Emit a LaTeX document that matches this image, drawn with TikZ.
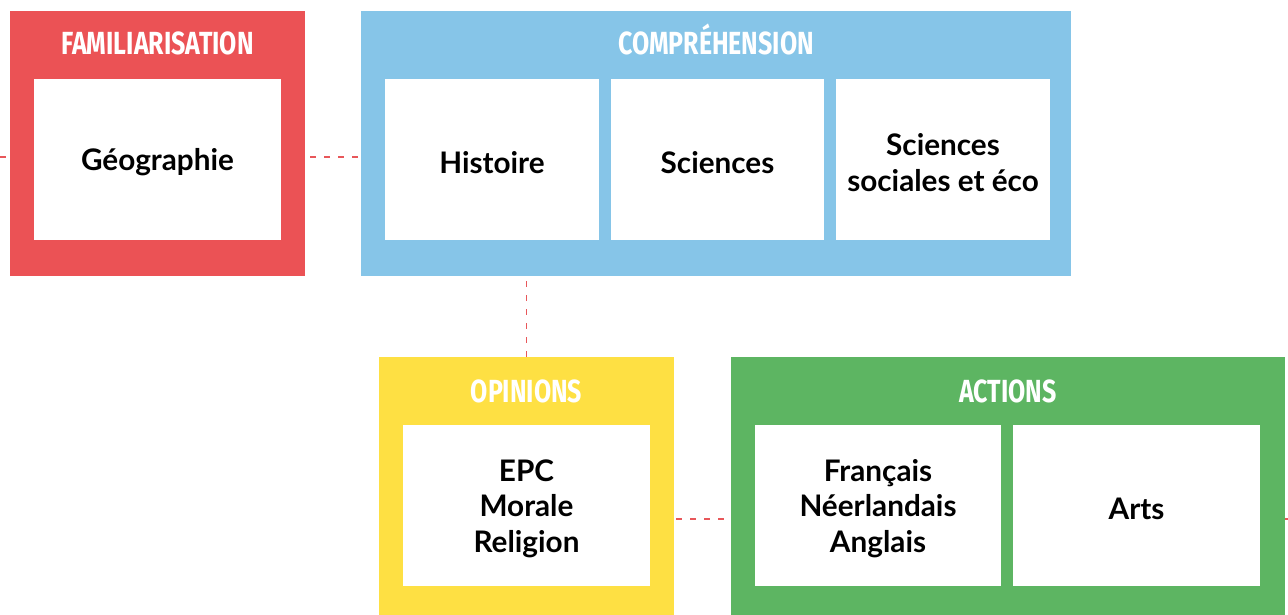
\documentclass[tikz,border=0pt]{standalone}
\usepackage{fontspec}
\setmainfont{Lato}
\newfontfamily\titlefont[FakeStretch=0.78]{Fira Sans}
\definecolor{cred}{HTML}{EB5255}
\definecolor{cblue}{HTML}{86C5E8}
\definecolor{cyellow}{HTML}{FEE043}
\definecolor{cgreen}{HTML}{5DB562}
\definecolor{cdash}{HTML}{E8575A}
\begin{document}
\begin{tikzpicture}[x=1pt,y=-1pt,
  panel/.style={rectangle,fill=#1,draw=none,inner sep=0pt,outer sep=0pt},
  card/.style={rectangle,fill=white,draw=none,inner sep=0pt,outer sep=0pt,
     minimum height=161pt},
  cardtext/.style={align=center,text=black,inner sep=0pt,yshift=-3pt,
     font=\fontsize{29.7}{35.5}\selectfont\bfseries},
  ttl/.style={anchor=base,text=white,inner sep=0pt,font=\titlefont\bfseries\fontsize{32}{32}\selectfont},
  link/.style={draw=cdash,line width=1.5pt,dash pattern=on 6pt off 8pt}]
\useasboundingbox (0,0) rectangle (1288,615);
% panels
\node[panel=cred,minimum width=295pt,minimum height=265pt] (fam) at (157.5,143.5) {};
\node[panel=cblue,minimum width=710pt,minimum height=265pt] (comp) at (716,143.5) {};
\node[panel=cyellow,minimum width=295pt,minimum height=258pt] (opin) at (526.5,486) {};
\node[panel=cgreen,minimum width=554pt,minimum height=258pt] (act) at (1008,486) {};
% titles
\node[ttl] (tfam) at (157.5,55) {FAMILIARISATION};
\node[ttl] (tcomp) at (716,55) {COMPRÉHENSION};
\node[ttl] (topin) at (526.5,402) {OPINIONS};
\node[ttl] (tact) at (1008,402) {ACTIONS};
% cards
\node[card,minimum width=247pt,label={[cardtext]center:Géographie}] (geo) at (157.5,159.5) {};
\node[card,minimum width=214pt,label={[cardtext]center:Histoire}] (hist) at (492,159.5) {};
\node[card,minimum width=213pt,label={[cardtext]center:Sciences}] (sci) at (717.5,159.5) {};
\node[card,minimum width=214pt,label={[cardtext]center:{Sciences\\sociales et éco}}] (sse) at (943,159.5) {};
\node[card,minimum width=247pt,label={[cardtext]center:{EPC\\Morale\\Religion}}] (epc) at (526.5,505.5) {};
\node[card,minimum width=246pt,label={[cardtext]center:{Français\\Néerlandais\\Anglais}}] (fna) at (878,505.5) {};
\node[card,minimum width=247pt,label={[cardtext]center:Arts}] (arts) at (1136.5,505.5) {};
% free ends
\coordinate (lin) at (0,157);
\coordinate (rout) at (1288,519);
% connectors
\draw[link] (lin) -- (lin -| fam.west);
\draw[link] ([xshift=5pt,yshift=-13.5pt]fam.east) -- ([yshift=-13.5pt]comp.west);
\draw[link] ([yshift=-5pt]comp.south -| opin.north) -- (opin.north);
\draw[link] ([xshift=2pt,yshift=-33pt]opin.east) -- ([yshift=-33pt]act.west);
\draw[link] ([yshift=-33pt]act.east) -- (rout);
\end{tikzpicture}
\end{document}
